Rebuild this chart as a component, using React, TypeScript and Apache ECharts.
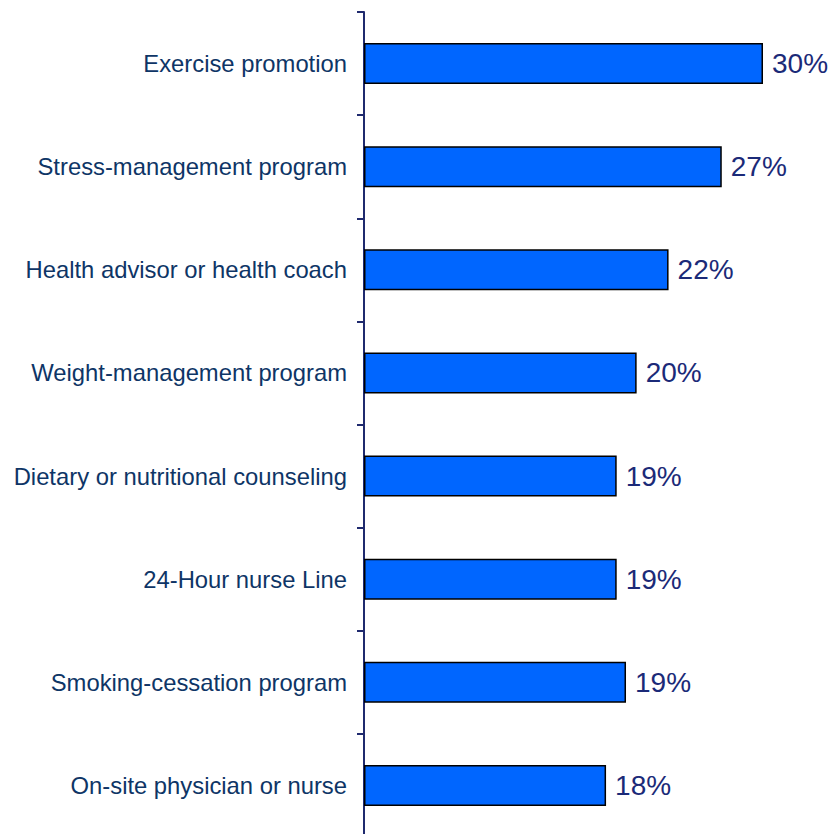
import React, { useEffect, useRef } from "react";
import * as echarts from "echarts";

const categories = [
  "Exercise promotion",
  "Stress-management program",
  "Health advisor or health coach",
  "Weight-management program",
  "Dietary or nutritional counseling",
  "24-Hour nurse Line",
  "Smoking-cessation program",
  "On-site physician or nurse",
];
const values = [30, 26.9, 22.9, 20.5, 19.0, 19.0, 19.7, 18.2];
const valueLabels = ["30%", "27%", "22%", "20%", "19%", "19%", "19%", "18%"];

export default function App() {
  const ref = useRef<HTMLDivElement>(null);
  useEffect(() => {
    document.body.style.margin = "0";
    document.body.style.overflow = "hidden";
    document.documentElement.style.overflow = "hidden";
    const chart = echarts.init(ref.current!, null, { renderer: "svg" });
    chart.setOption({
      animation: false,
      grid: { left: 364, right: 4.5, top: 12, bottom: 3, containLabel: false },
      xAxis: {
        type: "value",
        min: 0,
        max: 35,
        show: false,
      },
      yAxis: {
        type: "category",
        inverse: true,
        data: categories,
        axisLine: { show: true, lineStyle: { color: "#1F2A6E", width: 2 } },
        axisTick: { show: true, length: 7, lineStyle: { color: "#1F2A6E", width: 2 } },
        axisLabel: {
          margin: 17,
          color: "#0E3566",
          fontSize: 23.8,
          fontFamily: "Liberation Sans, Arial, sans-serif",
        },
        splitLine: { show: false },
      },
      series: [
        {
          type: "bar",
          data: values,
          barWidth: 41,
          itemStyle: { color: "#0066FF", borderColor: "#000000", borderWidth: 1.5 },
          label: {
            show: true,
            position: "right",
            distance: 9,
            color: "#1B2A78",
            fontSize: 28,
            fontFamily: "Liberation Sans, Arial, sans-serif",
            formatter: (p: any) => valueLabels[p.dataIndex],
          },
        },
      ],
    });
    return () => chart.dispose();
  }, []);
  return <div ref={ref} style={{ width: 834, height: 840 }} />;
}
